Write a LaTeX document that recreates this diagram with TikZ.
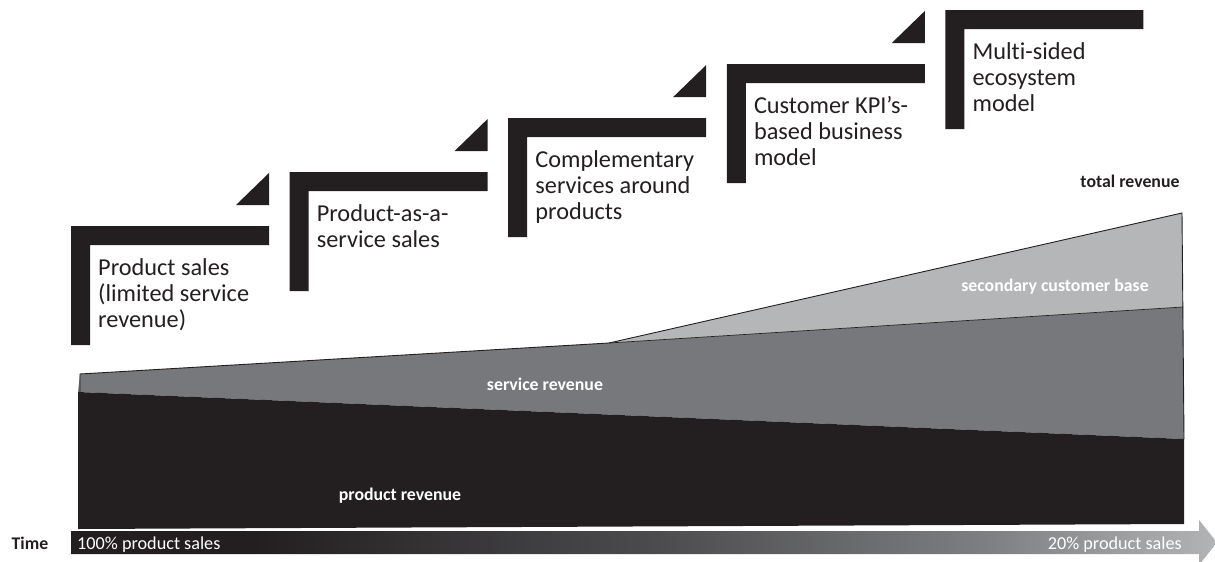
\documentclass[tikz,border=0pt]{standalone}
\usepackage{fontspec}
\setmainfont{Carlito}[Ligatures={NoCommon}]
\definecolor{ink}{HTML}{231F20}
\definecolor{svc}{HTML}{77787B}
\definecolor{sec}{HTML}{B5B6B8}
\definecolor{tA}{HTML}{231F20}
\definecolor{tB}{HTML}{4A4A4C}
\definecolor{tC}{HTML}{7E7F82}
\definecolor{tD}{HTML}{B3B4B6}
\pgfdeclarehorizontalshading{timeshade}{100bp}{color(0bp)=(tA); color(25bp)=(tA); color(33bp)=(tA); color(50bp)=(tB); color(65bp)=(tC); color(75bp)=(tD); color(100bp)=(tD)}
\begin{document}
\begin{tikzpicture}[x=1pt,y=-1pt,
  steptext/.style={font=\fontsize{24.3}{26}\selectfont, text=ink, inner sep=0pt, anchor=base west},
  chartlabel/.style={font=\fontsize{17.8}{20}\selectfont\bfseries, text=white, inner sep=0pt, anchor=base},
  axislabel/.style={font=\fontsize{18.2}{20}\selectfont, text=white, inner sep=0pt, anchor=base west},
  outline/.style={draw=ink, line width=0.9pt, line join=miter}]
\useasboundingbox (0,0) rectangle (1215,562);

% ---- staircase of business models ----
\foreach \k in {0,...,4}{
  \pgfmathsetmacro{\xo}{71+218.6*\k}
  \pgfmathsetmacro{\yo}{226-54*\k}
  \fill[ink] (\xo,\yo) -- (\xo+198,\yo) -- (\xo+198,\yo+19) -- (\xo+19,\yo+19) -- (\xo+19,\yo+119) -- (\xo,\yo+119) -- cycle;
}
\foreach \k in {0,...,3}{
  \pgfmathsetmacro{\xo}{71+218.6*\k}
  \pgfmathsetmacro{\yo}{226-54*\k}
  \fill[ink] (\xo+198,\yo-53) -- (\xo+198,\yo-21) -- (\xo+165,\yo-21) -- cycle;
}
\node[steptext] (s1) at (98,275) {\begin{tabular}[t]{@{}l@{}}Product sales\\(limited service\\revenue)\end{tabular}};
\node[steptext] (s2) at (316.6,221) {\begin{tabular}[t]{@{}l@{}}Product-as-a-\\service sales\end{tabular}};
\node[steptext] (s3) at (535.2,167) {\begin{tabular}[t]{@{}l@{}}Complementary\\services around\\products\end{tabular}};
\node[steptext] (s4) at (753.8,113) {\begin{tabular}[t]{@{}l@{}}Customer KPI’s-\\based business\\model\end{tabular}};
\node[steptext] (s5) at (972.4,59) {\begin{tabular}[t]{@{}l@{}}Multi-sided\\ecosystem\\model\end{tabular}};

% ---- revenue areas ----
\fill[svc] (80,374) -- (609,343) -- (1183,307) -- (1184,439) -- (78,392) -- cycle;
\fill[sec] (609,343) -- (1182,213) -- (1183,307) -- cycle;
\fill[ink] (78,392) -- (1184,439) -- (1184,524) -- (78,529) -- cycle;
\draw[outline] (80,392) -- (80,374) -- (609,343) -- (1182,213) -- (1184,439);
\draw[outline, line width=0.7pt] (609,343) -- (1183,307);

\node[chartlabel, text=ink] (total) at (1130,187) {total revenue};
\node[chartlabel] (second) at (1055,291) {secondary customer base};
\node[chartlabel] (service) at (545,390) {service revenue};
\node[chartlabel] (product) at (400,500) {product revenue};

% ---- time arrow ----
\path[shading=timeshade] (71,531) -- (1199,531) -- (1199,520) -- (1217,542.5) -- (1199,565) -- (1199,554) -- (71,554) -- cycle;
\node[font=\fontsize{17.8}{20}\selectfont\bfseries, text=ink, inner sep=0pt, anchor=base] (time) at (30,549) {Time};
\node[axislabel] (start) at (77,549) {100\% product sales};
\node[axislabel, anchor=base east] (end) at (1182,549) {20\% product sales};
\end{tikzpicture}
\end{document}
